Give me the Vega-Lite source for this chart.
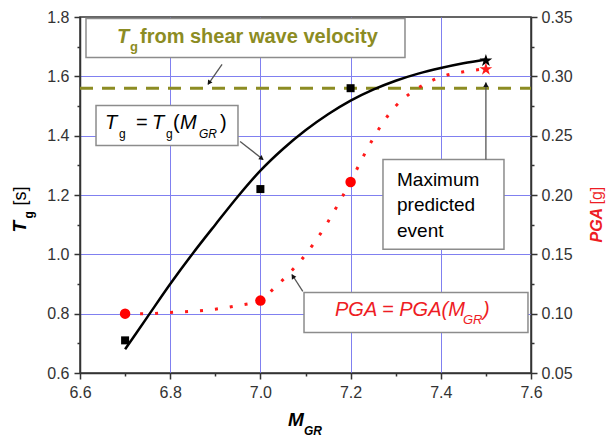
{
  "$schema": "https://vega.github.io/schema/vega-lite/v6.json",
  "width": 451,
  "height": 356,
  "autosize": {"type": "none"},
  "padding": {"left": 80, "top": 17, "right": 76, "bottom": 68},
  "background": "white",
  "config": {
    "view": {"stroke": "#333333", "strokeWidth": 1.5},
    "font": "Liberation Sans",
    "text": {"font": "Liberation Sans", "align": "left", "baseline": "alphabetic"}
  },
  "encoding": {
    "x": {
      "field": "x", "type": "quantitative", "title": null,
      "scale": {"domain": [6.6, 7.6], "nice": false, "zero": false},
      "axis": {
        "values": [6.6, 6.7, 6.8, 6.9, 7.0, 7.1, 7.2, 7.3, 7.4, 7.5, 7.6],
        "labelExpr": "abs(datum.value*5-round(datum.value*5))<0.01 ? format(datum.value,'.1f') : ''",
        "tickSize": 6,
        "tickDash": {"condition": {"test": "abs(datum.value*5-round(datum.value*5))<0.01", "value": [6, 0]}, "value": [3, 20]},
        "grid": true,
        "gridColor": "#8080f0",
        "gridWidth": 1,
        "gridOpacity": {"condition": {"test": "abs(datum.value*5-round(datum.value*5))<0.01 && datum.value>6.65 && datum.value<7.55", "value": 1}, "value": 0},
        "domainColor": "#333333", "domainWidth": 1.5,
        "tickColor": "#333333", "tickWidth": 1.5,
        "labelFont": "Liberation Sans", "labelFontSize": 16, "labelColor": "#333333",
        "labelPadding": 5, "labelOverlap": false, "labelFlush": false, "labelBound": false
      }
    }
  },
  "layer": [
    {
      "encoding": {
        "y": {
          "field": "y", "type": "quantitative", "title": null,
          "scale": {"domain": [0.6, 1.8], "nice": false, "zero": false},
          "axis": {
            "orient": "left",
            "values": [0.6, 0.7, 0.8, 0.9, 1.0, 1.1, 1.2, 1.3, 1.4, 1.5, 1.6, 1.7, 1.8],
            "labelExpr": "abs(datum.value*5-round(datum.value*5))<0.01 ? format(datum.value,'.1f') : ''",
            "tickSize": 6,
            "tickDash": {"condition": {"test": "abs(datum.value*5-round(datum.value*5))<0.01", "value": [6, 0]}, "value": [3, 20]},
            "grid": true,
            "gridColor": "#8080f0",
            "gridWidth": 1,
            "gridOpacity": {"condition": {"test": "abs(datum.value*5-round(datum.value*5))<0.01 && datum.value>0.65 && datum.value<1.75", "value": 1}, "value": 0},
            "domainColor": "#333333", "domainWidth": 1.5,
            "tickColor": "#333333", "tickWidth": 1.5,
            "labelFont": "Liberation Sans", "labelFontSize": 16, "labelColor": "#333333",
            "labelPadding": 5, "labelOverlap": false, "labelFlush": false, "labelBound": false
          }
        }
      },
      "layer": [
        {
          "data": {"values": [{"x": 6.6, "x2": 7.6, "y": 1.56}]},
          "mark": {"type": "rule", "color": "#8c8c23", "strokeWidth": 3, "strokeDash": [13, 9]},
          "encoding": {"x2": {"field": "x2"}}
        },
        {
          "data": {"values": [
            {"x": 6.70, "y": 0.68}, {"x": 6.75, "y": 0.79}, {"x": 6.80, "y": 0.90},
            {"x": 6.85, "y": 1.003}, {"x": 6.90, "y": 1.10}, {"x": 6.95, "y": 1.195},
            {"x": 7.00, "y": 1.282}, {"x": 7.05, "y": 1.355}, {"x": 7.10, "y": 1.418},
            {"x": 7.15, "y": 1.472}, {"x": 7.20, "y": 1.518}, {"x": 7.25, "y": 1.555},
            {"x": 7.30, "y": 1.585}, {"x": 7.35, "y": 1.609}, {"x": 7.40, "y": 1.628},
            {"x": 7.45, "y": 1.644}, {"x": 7.50, "y": 1.657}
          ]},
          "mark": {"type": "line", "color": "#000000", "strokeWidth": 2.5, "interpolate": "monotone"}
        },
        {
          "data": {"values": [{"x": 6.7, "y": 0.71}, {"x": 7.0, "y": 1.22}, {"x": 7.2, "y": 1.56}]},
          "mark": {"type": "square", "color": "#000000", "filled": true, "opacity": 1, "size": 64}
        },
        {
          "data": {"values": [{"x": 7.5, "y": 1.653}]},
          "mark": {"type": "point", "shape": "M0,-1L0.2245,-0.309L0.951,-0.309L0.3633,0.118L0.5878,0.809L0,0.382L-0.5878,0.809L-0.3633,0.118L-0.951,-0.309L-0.2245,-0.309Z", "color": "#000000", "filled": true, "opacity": 1, "size": 180}
        },
        {
          "data": {"values": [
            {"x": 6.6133, "x2": 7.3206, "y": 1.795, "y2": 1.6635},
            {"x": 6.6355, "x2": 6.9503, "y": 1.5017, "y2": 1.3669},
            {"x": 7.2718, "x2": 7.5401, "y": 1.320, "y2": 1.0169},
            {"x": 7.0967, "x2": 7.5933, "y": 0.8714, "y2": 0.7365}
          ]},
          "mark": {"type": "rect", "fill": "#ffffff", "stroke": "#8c8c8c", "strokeWidth": 1.5},
          "encoding": {"x2": {"field": "x2"}, "y2": {"field": "y2"}}
        },
        {
          "data": {"values": [
            {"x": 6.915, "y": 1.640, "x2": 6.884, "y2": 1.5725},
            {"x": 6.955, "y": 1.380, "x2": 7.006, "y2": 1.320},
            {"x": 7.094, "y": 0.875, "x2": 7.070, "y2": 0.932},
            {"x": 7.5, "y": 1.320, "x2": 7.5, "y2": 1.579}
          ]},
          "mark": {"type": "rule", "color": "#555555", "strokeWidth": 1.3},
          "encoding": {"x2": {"field": "x2"}, "y2": {"field": "y2"}}
        },
        {
          "data": {"values": [{"x": 6.886, "y": 1.578}]},
          "mark": {"type": "point", "shape": "triangle-up", "filled": true, "color": "#111111", "opacity": 1, "size": 28, "angle": 215}
        },
        {
          "data": {"values": [{"x": 7.003, "y": 1.323}]},
          "mark": {"type": "point", "shape": "triangle-up", "filled": true, "color": "#111111", "opacity": 1, "size": 28, "angle": 128}
        },
        {
          "data": {"values": [{"x": 7.072, "y": 0.926}]},
          "mark": {"type": "point", "shape": "triangle-up", "filled": true, "color": "#111111", "opacity": 1, "size": 28, "angle": 327}
        },
        {
          "data": {"values": [{"x": 7.5, "y": 1.572}]},
          "mark": {"type": "point", "shape": "triangle-up", "filled": true, "color": "#111111", "opacity": 1, "size": 28, "angle": 0}
        },
        {
          "data": {"values": [{"x": 6.682, "y": 1.714, "t": "T"}]},
          "mark": {"type": "text", "color": "#8c8c23", "fontSize": 20, "fontWeight": "bold", "fontStyle": "italic"},
          "encoding": {"text": {"field": "t"}}
        },
        {
          "data": {"values": [{"x": 6.7109, "y": 1.687, "t": "g"}]},
          "mark": {"type": "text", "color": "#8c8c23", "fontSize": 13, "fontWeight": "bold"},
          "encoding": {"text": {"field": "t"}}
        },
        {
          "data": {"values": [{"x": 6.733, "y": 1.714, "t": "from shear wave velocity"}]},
          "mark": {"type": "text", "color": "#8c8c23", "fontSize": 20, "fontWeight": "bold"},
          "encoding": {"text": {"field": "t"}}
        },
        {
          "data": {"values": [
            {"x": 6.6554, "y": 1.4208, "t": "T"},
            {"x": 6.7596, "y": 1.4208, "t": "T"},
            {"x": 6.8217, "y": 1.4208, "t": "M"}
          ]},
          "mark": {"type": "text", "color": "#000000", "fontSize": 20, "fontStyle": "italic"},
          "encoding": {"text": {"field": "t"}}
        },
        {
          "data": {"values": [
            {"x": 6.7242, "y": 1.4208, "t": "="},
            {"x": 6.8062, "y": 1.4208, "t": "("},
            {"x": 6.9104, "y": 1.4208, "t": ")"}
          ]},
          "mark": {"type": "text", "color": "#000000", "fontSize": 20},
          "encoding": {"text": {"field": "t"}}
        },
        {
          "data": {"values": [
            {"x": 6.6865, "y": 1.3938, "t": "g"},
            {"x": 6.7907, "y": 1.3938, "t": "g"}
          ]},
          "mark": {"type": "text", "color": "#000000", "fontSize": 12},
          "encoding": {"text": {"field": "t"}}
        },
        {
          "data": {"values": [{"x": 6.8639, "y": 1.3938, "t": "GR"}]},
          "mark": {"type": "text", "color": "#000000", "fontSize": 12, "fontStyle": "italic"},
          "encoding": {"text": {"field": "t"}}
        },
        {
          "data": {"values": [
            {"x": 7.3029, "y": 1.2287, "t": "Maximum"},
            {"x": 7.3029, "y": 1.1444, "t": "predicted"},
            {"x": 7.3029, "y": 1.0601, "t": "event"}
          ]},
          "mark": {"type": "text", "color": "#000000", "fontSize": 19},
          "encoding": {"text": {"field": "t"}}
        },
        {
          "data": {"values": [
            {"x": 7.1654, "y": 0.7905, "t": "PGA = PGA(M"},
            {"x": 7.4936, "y": 0.7905, "t": ")"}
          ]},
          "mark": {"type": "text", "color": "#ee1c24", "fontSize": 20, "fontStyle": "italic"},
          "encoding": {"text": {"field": "t"}}
        },
        {
          "data": {"values": [{"x": 7.4492, "y": 0.7635, "t": "GR"}]},
          "mark": {"type": "text", "color": "#ee1c24", "fontSize": 13, "fontStyle": "italic"},
          "encoding": {"text": {"field": "t"}}
        },
        {
          "data": {"values": [{"x": 6.4803, "y": 1.0736, "t": "T"}]},
          "mark": {"type": "text", "color": "#000000", "fontSize": 19, "fontWeight": "bold", "fontStyle": "italic", "angle": 270},
          "encoding": {"text": {"field": "t"}}
        },
        {
          "data": {"values": [{"x": 6.4958, "y": 1.1208, "t": "g"}]},
          "mark": {"type": "text", "color": "#000000", "fontSize": 12, "fontWeight": "bold", "angle": 270},
          "encoding": {"text": {"field": "t"}}
        },
        {
          "data": {"values": [{"x": 6.4803, "y": 1.1646, "t": "[s]"}]},
          "mark": {"type": "text", "color": "#000000", "fontSize": 18, "angle": 270},
          "encoding": {"text": {"field": "t"}}
        },
        {
          "data": {"values": [{"x": 7.7575, "y": 1.0399, "t": "PGA"}]},
          "mark": {"type": "text", "color": "#ee1c24", "fontSize": 16, "fontWeight": "bold", "fontStyle": "italic", "angle": 270},
          "encoding": {"text": {"field": "t"}}
        },
        {
          "data": {"values": [{"x": 7.7575, "y": 1.168, "t": "[g]"}]},
          "mark": {"type": "text", "color": "#ee1c24", "fontSize": 16, "angle": 270},
          "encoding": {"text": {"field": "t"}}
        },
        {
          "data": {"values": [{"x": 7.0612, "y": 0.4197, "t": "M"}]},
          "mark": {"type": "text", "color": "#000000", "fontSize": 19, "fontWeight": "bold", "fontStyle": "italic"},
          "encoding": {"text": {"field": "t"}}
        },
        {
          "data": {"values": [{"x": 7.0967, "y": 0.3894, "t": "GR"}]},
          "mark": {"type": "text", "color": "#000000", "fontSize": 12, "fontWeight": "bold", "fontStyle": "italic"},
          "encoding": {"text": {"field": "t"}}
        }
      ]
    },
    {
      "encoding": {
        "y": {
          "field": "pga", "type": "quantitative", "title": null,
          "scale": {"domain": [0.05, 0.35], "nice": false, "zero": false},
          "axis": {
            "orient": "right",
            "values": [0.05, 0.075, 0.1, 0.125, 0.15, 0.175, 0.2, 0.225, 0.25, 0.275, 0.3, 0.325, 0.35],
            "labelExpr": "abs(datum.value*20-round(datum.value*20))<0.01 ? format(datum.value,'.2f') : ''",
            "tickSize": 6,
            "tickDash": {"condition": {"test": "abs(datum.value*20-round(datum.value*20))<0.01", "value": [6, 0]}, "value": [3, 20]},
            "grid": false,
            "domainColor": "#333333", "domainWidth": 1.5,
            "tickColor": "#333333", "tickWidth": 1.5,
            "labelFont": "Liberation Sans", "labelFontSize": 16, "labelColor": "#333333",
            "labelPadding": 4, "labelOverlap": false, "labelFlush": false, "labelBound": false
          }
        }
      },
      "layer": [
        {
          "data": {"values": [
            {"x": 6.70, "pga": 0.1000}, {"x": 6.75, "pga": 0.1000}, {"x": 6.80, "pga": 0.1010},
            {"x": 6.85, "pga": 0.1020}, {"x": 6.90, "pga": 0.1038}, {"x": 6.95, "pga": 0.1068},
            {"x": 7.00, "pga": 0.1113}, {"x": 7.03, "pga": 0.1213}, {"x": 7.06, "pga": 0.1325},
            {"x": 7.09, "pga": 0.1450}, {"x": 7.12, "pga": 0.1600}, {"x": 7.15, "pga": 0.1775},
            {"x": 7.18, "pga": 0.1975}, {"x": 7.20, "pga": 0.2113}, {"x": 7.23, "pga": 0.2338},
            {"x": 7.27, "pga": 0.2600}, {"x": 7.30, "pga": 0.2750}, {"x": 7.33, "pga": 0.2850},
            {"x": 7.36, "pga": 0.2925}, {"x": 7.40, "pga": 0.2995}, {"x": 7.45, "pga": 0.3038},
            {"x": 7.50, "pga": 0.3063}
          ]},
          "mark": {"type": "line", "color": "#ff1a1a", "strokeWidth": 3, "strokeDash": [3, 12], "interpolate": "monotone"}
        },
        {
          "data": {"values": [{"x": 6.7, "pga": 0.100}, {"x": 7.0, "pga": 0.111}, {"x": 7.2, "pga": 0.211}]},
          "mark": {"type": "circle", "color": "#ff0000", "opacity": 1, "size": 110}
        },
        {
          "data": {"values": [{"x": 7.5, "pga": 0.306}]},
          "mark": {"type": "point", "shape": "M0,-1L0.2245,-0.309L0.951,-0.309L0.3633,0.118L0.5878,0.809L0,0.382L-0.5878,0.809L-0.3633,0.118L-0.951,-0.309L-0.2245,-0.309Z", "color": "#ff1a1a", "filled": true, "opacity": 1, "size": 180}
        }
      ]
    }
  ],
  "resolve": {"scale": {"y": "independent"}}
}
